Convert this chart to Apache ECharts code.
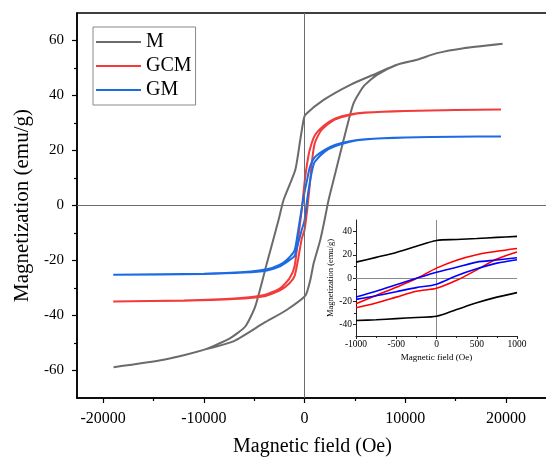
<!DOCTYPE html>
<html><head><meta charset="utf-8">
<script src="https://cdn.jsdelivr.net/npm/echarts@6/dist/echarts.min.js"></script>
<style>html,body{margin:0;padding:0;background:#fff}#c{width:546px;height:459px}</style>
</head><body><div id="c"></div>
<script>
// ---- tick labels ----
const xTickLabels = [-20000, -10000, 0, 10000, 20000];
const xMinorTicks = [-15000, -5000, 5000, 15000];
const yTickLabels = [-60, -40, -20, 0, 20, 40, 60];
const yMinorTicks = [-50, -30, -10, 10, 30, 50];
const insetXTickLabels = [-1000, -500, 0, 500, 1000];
const insetXMinorTicks = [-750, -250, 250, 750];
const insetYTickLabels = [-40, -20, 0, 20, 40];
const insetYMinorTicks = [-30, -10, 10, 30];

// ---- main chart: M (descending branch then ascending branch) ----
const mDescField = [19660, 15790, 13150, 11160, 9170, 7190, 4540, 1890, 70, -100, -430, -920, -2090, -2580, -3740, -4900, -5890, -7380, -10030, -14000, -18970];
const mDescMag   = [58.8, 57.2, 55.4, 53.0, 51.2, 48.1, 43.9, 38.4, 33.0, 31.2, 23.9, 13.0, 2.0, -5.2, -20.9, -36.7, -44.0, -48.2, -52.5, -56.1, -58.8];
const mAscField  = [-18970, -14000, -10030, -7000, -4070, -1750, 70, 570, 900, 1560, 2000, 2380, 3050, 4210, 4870, 5860, 7190, 9170, 11160, 13150, 15790, 19660];
const mAscMag    = [-58.8, -56.1, -52.5, -49.3, -42.8, -37.9, -32.8, -27.0, -21.0, -12.5, -5.0, 2.0, 11.8, 28.7, 37.2, 43.3, 47.5, 51.2, 53.0, 55.4, 57.2, 58.8];

// ---- main chart: GCM ----
const gcmDescField = [19500, 15000, 10000, 6000, 4500, 3000, 1900, 1000, 500, 250, 0, -280, -660, -1000, -1500, -2400, -4000, -7000, -12000, -19000];
const gcmDescMag   = [34.9, 34.7, 34.4, 33.8, 33.1, 31.6, 29.0, 25.4, 20.1, 15.2, 8.5, -1.5, -12.6, -22.2, -26.5, -30.0, -32.5, -33.8, -34.5, -34.9];
const gcmAscField  = [-19000, -12000, -7000, -4000, -2400, -1500, -1000, -660, -280, 0, 250, 500, 750, 1000, 1500, 1900, 3000, 4500, 6000, 10000, 15000, 19500];
const gcmAscMag    = [-34.9, -34.6, -34.0, -33.0, -30.8, -28.3, -25.7, -19.9, -12.0, -8.8, -1.8, 7.0, 16.6, 22.5, 26.5, 28.3, 31.2, 32.9, 33.7, 34.4, 34.7, 34.9];

// ---- main chart: GM ----
const gmDescField = [19500, 15000, 10000, 6000, 4500, 3000, 2000, 1000, 500, 250, 0, -280, -660, -1000, -1750, -2500, -3740, -6000, -10000, -19000];
const gmDescMag   = [25.1, 25.0, 24.7, 24.1, 23.4, 22.0, 20.2, 17.5, 13.7, 9.3, 5.0, -0.9, -9.6, -16.4, -19.7, -21.6, -23.2, -24.2, -24.8, -25.2];
const gmAscField  = [-19000, -10000, -6000, -3740, -2500, -1750, -1000, -660, -280, 0, 250, 500, 750, 1000, 2000, 3000, 4500, 6000, 10000, 15000, 19500];
const gmAscMag    = [-25.2, -24.9, -24.4, -23.6, -22.2, -20.5, -18.4, -14.0, -8.8, -5.3, 2.0, 7.9, 12.8, 15.8, 19.6, 21.5, 23.2, 24.0, 24.7, 25.0, 25.1];

// ---- inset (low field) ----
const insetField     = [-1000, -750, -500, -250, 0, 250, 500, 750, 1000];
const insetMUpper    = [13.7, 17.8, 22.0, 27.3, 32.3, 33.2, 34.0, 35.0, 35.9];
const insetMLower    = [-36.7, -36.0, -35.0, -34.0, -33.0, -27.2, -21.4, -16.5, -12.6];
const insetGcmUpper  = [-22.2, -15.0, -8.0, -0.5, 8.5, 15.4, 20.1, 23.0, 25.4];
const insetGcmLower  = [-25.7, -21.5, -16.5, -11.5, -8.8, -2.0, 7.0, 16.4, 22.5];
const insetGmUpper   = [-16.4, -11.5, -5.8, -0.3, 5.0, 9.3, 13.7, 15.5, 17.5];
const insetGmLower   = [-18.4, -15.3, -11.8, -8.3, -5.3, 2.0, 7.9, 12.8, 15.8];

const zip = (xs, ys) => xs.map((x, i) => [x, ys[i]]);
const loop = (dx, dy, ax, ay) => zip(dx, dy).concat(zip(ax, ay));
const rev = a => a.slice().reverse();
const plain = v => String(v);

const FONT = 'Liberation Serif';
const chart = echarts.init(document.getElementById('c'), null, {renderer: 'canvas'});

const mainLine = (name, color, data) => ({
  name, type: 'line', xAxisIndex: 0, yAxisIndex: 0, data,
  symbol: 'none', smooth: 0.2, lineStyle: {color, width: 2}, itemStyle: {color},
  z: 3
});
const insetLine = (name, color, data) => ({
  name, type: 'line', xAxisIndex: 2, yAxisIndex: 2, data,
  symbol: 'none', smooth: 0.3, lineStyle: {color, width: 1.6}, itemStyle: {color},
  z: 6
});

const zeroLines = (color) => ({
  silent: true, symbol: ['none', 'none'], label: {show: false},
  lineStyle: {color, width: 1, type: 'solid'},
  emphasis: {disabled: true},
  data: [{xAxis: 0}, {yAxis: 0}]
});

const option = {
  animation: false,
  backgroundColor: '#fff',
  textStyle: {fontFamily: FONT},
  legend: {
    data: ['M', 'GCM', 'GM'],
    left: 93, top: 27, orient: 'vertical',
    padding: [5, 4, 5, 3], itemGap: 4,
    itemWidth: 45, itemHeight: 20,
    icon: 'path://M0 0H45V2H0Z',
    symbolKeepAspect: true,
    borderColor: '#888', borderWidth: 1, backgroundColor: '#fff',
    textStyle: {fontFamily: FONT, fontSize: 20, color: '#000'}
  },
  grid: [
    {left: 77, top: 13, right: -2, bottom: 61, show: true, borderColor: '#000', borderWidth: 1.5, backgroundColor: 'transparent', outerBoundsMode: 'none'},
    {left: 356, top: 220, width: 161, height: 116, show: false, outerBoundsMode: 'none'}
  ],
  xAxis: [
    {gridIndex: 0, type: 'value', min: -22600, max: 24170, position: 'bottom',
     name: 'Magnetic field (Oe)', nameLocation: 'middle', nameGap: 39,
     nameTextStyle: {fontFamily: FONT, fontSize: 20, color: '#000'},
     axisLine: {show: true, onZero: false, lineStyle: {color: '#000', width: 1.5}},
     axisTick: {show: true, inside: false, length: 5, customValues: xTickLabels, lineStyle: {color: '#000', width: 1.2}},
     axisLabel: {customValues: xTickLabels, formatter: plain, margin: 13, fontFamily: FONT, fontSize: 16, color: '#000'},
     splitLine: {show: false}},
    {gridIndex: 0, type: 'value', min: -22600, max: 24170, position: 'bottom',
     axisLine: {show: false, onZero: false},
     axisTick: {show: true, inside: false, length: 3, customValues: xMinorTicks, lineStyle: {color: '#000', width: 1.2}},
     axisLabel: {show: false}, splitLine: {show: false}},
    {gridIndex: 1, type: 'value', min: -1000, max: 1000, position: 'bottom',
     name: 'Magnetic field (Oe)', nameLocation: 'middle', nameGap: 17,
     nameTextStyle: {fontFamily: FONT, fontSize: 9, color: '#000'},
     axisLine: {show: true, onZero: false, lineStyle: {color: '#222', width: 1}},
     axisTick: {show: true, length: 3, customValues: insetXTickLabels, lineStyle: {color: '#222'}},
     axisLabel: {customValues: insetXTickLabels, formatter: plain, margin: 3, fontFamily: FONT, fontSize: 9.5, color: '#000'},
     splitLine: {show: false}},
    {gridIndex: 1, type: 'value', min: -1000, max: 1000, position: 'bottom',
     axisLine: {show: false, onZero: false},
     axisTick: {show: true, length: 2, customValues: insetXMinorTicks, lineStyle: {color: '#222'}},
     axisLabel: {show: false}, splitLine: {show: false}}
  ],
  yAxis: [
    {gridIndex: 0, type: 'value', min: -70, max: 70, position: 'left',
     name: 'Magnetization (emu/g)', nameLocation: 'middle', nameGap: 41,
     nameTextStyle: {fontFamily: FONT, fontSize: 21, color: '#000'},
     axisLine: {show: true, onZero: false, lineStyle: {color: '#000', width: 1.5}},
     axisTick: {show: true, inside: false, length: 5, customValues: yTickLabels, lineStyle: {color: '#000', width: 1.2}},
     axisLabel: {customValues: yTickLabels, formatter: plain, margin: 13, fontFamily: FONT, fontSize: 15, color: '#000'},
     splitLine: {show: false}},
    {gridIndex: 0, type: 'value', min: -70, max: 70, position: 'left',
     axisLine: {show: false, onZero: false},
     axisTick: {show: true, inside: false, length: 3, customValues: yMinorTicks, lineStyle: {color: '#000', width: 1.2}},
     axisLabel: {show: false}, splitLine: {show: false}},
    {gridIndex: 1, type: 'value', min: -50, max: 50, position: 'left',
     name: 'Magnetization (emu/g)', nameLocation: 'middle', nameGap: 21,
     nameTextStyle: {fontFamily: FONT, fontSize: 8.5, color: '#000'},
     axisLine: {show: true, onZero: false, lineStyle: {color: '#222', width: 1}},
     axisTick: {show: true, length: 3, customValues: insetYTickLabels, lineStyle: {color: '#222'}},
     axisLabel: {customValues: insetYTickLabels, formatter: plain, margin: 4, fontFamily: FONT, fontSize: 9.5, color: '#000'},
     splitLine: {show: false}},
    {gridIndex: 1, type: 'value', min: -50, max: 50, position: 'left',
     axisLine: {show: false, onZero: false},
     axisTick: {show: true, length: 2, customValues: insetYMinorTicks, lineStyle: {color: '#222'}},
     axisLabel: {show: false}, splitLine: {show: false}}
  ],
  series: [
    Object.assign(mainLine('M', '#6b6b6b', loop(mDescField, mDescMag, mAscField, mAscMag)), {markLine: zeroLines('#6b6b6b')}),
    mainLine('GCM', '#f23b3b', loop(gcmDescField, gcmDescMag, gcmAscField, gcmAscMag)),
    mainLine('GM', '#1c6be3', loop(gmDescField, gmDescMag, gmAscField, gmAscMag)),
    Object.assign(insetLine('M inset upper', '#000', zip(insetField, insetMUpper)), {markLine: zeroLines('#8a8a8a')}),
    insetLine('M inset lower', '#000', zip(insetField, insetMLower)),
    insetLine('GCM inset upper', '#ff0000', zip(rev(insetField), rev(insetGcmUpper))),
    insetLine('GCM inset lower', '#ff0000', zip(insetField, insetGcmLower)),
    insetLine('GM inset upper', '#0000ff', zip(rev(insetField), rev(insetGmUpper))),
    insetLine('GM inset lower', '#0000ff', zip(insetField, insetGmLower))
  ]
};
chart.setOption(option);
</script>
</body></html>
